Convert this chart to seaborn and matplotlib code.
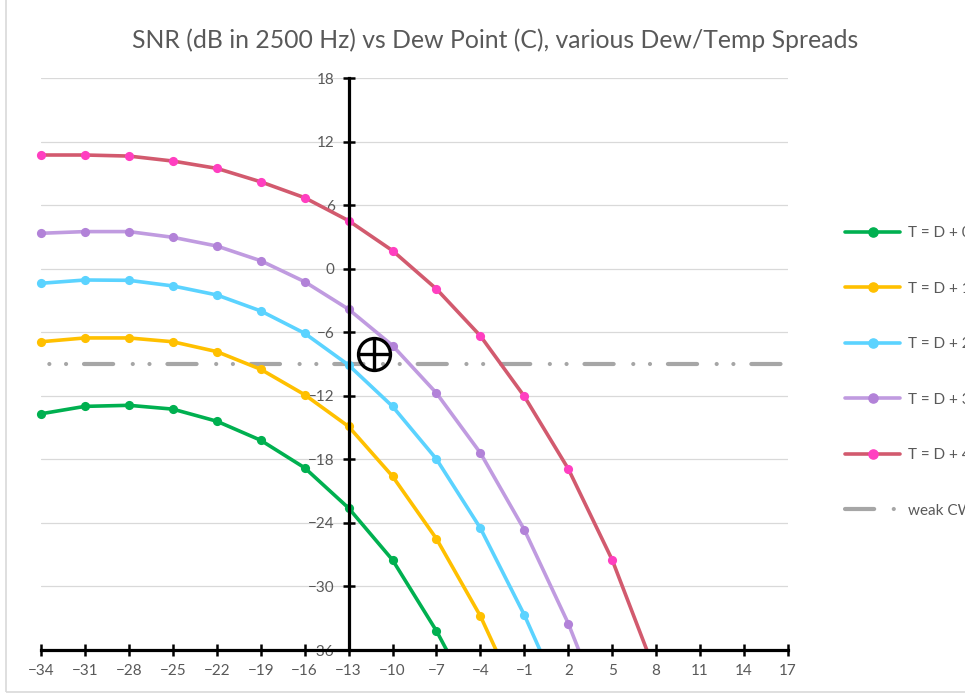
#Recreate the SNR vs Dew Point chart (Excel style) with seaborn

#import packages
import pandas as pd
import matplotlib
matplotlib.use("Agg")
from matplotlib import pyplot as plt
from matplotlib.patches import Rectangle
from matplotlib.lines import Line2D
import seaborn as sns

#data
dew_point = [-34, -31, -28, -25, -22, -19, -16, -13, -10, -7, -4, -1, 2, 5, 8]
spread_0 = [-13.7, -13.0, -12.9, -13.26, -14.4, -16.2, -18.8, -22.6, -27.5, -34.2, -42.0]
spread_1 = [-6.9, -6.54, -6.54, -6.9, -7.83, -9.5, -11.9, -14.9, -19.6, -25.5, -32.8, -41.8]
spread_2 = [-1.38, -1.07, -1.1, -1.63, -2.48, -3.99, -6.1, -9.1, -13.0, -17.98, -24.5, -32.7, -42.0]
spread_3 = [3.34, 3.5, 3.5, 2.96, 2.14, 0.75, -1.23, -3.83, -7.26, -11.75, -17.4, -24.65, -33.5, -44.0]
spread_4 = [10.73, 10.73, 10.63, 10.16, 9.47, 8.2, 6.7, 4.53, 1.7, -1.92, -6.35, -12.06, -18.9, -27.5, -38.3]
labels = ["T = D + 0", "T = D + 1", "T = D + 2", "T = D + 3", "T = D + 4"]

weak_cw_x = [-34, 17]
weak_cw_y = [-9, -9]
weak_label = "weak CW"

point_x = [-11.27]
point_y = [-8.05]

x_ticks = list(range(-34, 18, 3))
y_ticks = list(range(-36, 19, 6))

#colors (lines, then marker faces)
line_colors = ['#00B050', '#FFC000', '#5BD3FF', '#C09BE0', '#D25A6E']
marker_colors = ['#00B050', '#FFC000', '#5BD3FF', '#B282D8', '#FF3FC0']
grey_text = '#595959'
weak_dash = (7.0, 4.7, 0.01, 4.0, 0.01, 4.3)

#build long table for seaborn
series = [spread_0, spread_1, spread_2, spread_3, spread_4]
rows = []
for lab, vals in zip(labels, series):
    for x, y in zip(dew_point, vals):
        rows.append({'dew': x, 'snr': y, 'spread': lab})
df = pd.DataFrame(rows)

sns.set_style('white')
plt.rcParams['font.family'] = ['Lato', 'DejaVu Sans']

fig = plt.figure(figsize=(9.65, 6.96), dpi=100)
ax = fig.add_axes([41/965, 1-650/696, (788-41)/965, (650-78)/696])

#weak CW reference line (dash dot dot)
ax.plot(weak_cw_x, weak_cw_y, color='#A6A6A6', lw=3.0, ls=(9.7, weak_dash),
        dash_capstyle='round', zorder=2)

sns.lineplot(data=df, x='dew', y='snr', hue='spread', hue_order=labels,
             palette=line_colors, marker='o', sort=False, estimator=None,
             lw=2.6, ms=6.6, mew=0, legend=False, ax=ax, zorder=3)

#clip the lines at the bottom axis only, keep the left markers whole
clip = Rectangle((-40, -36), 70, 70, transform=ax.transData)
for ln, mc in zip(ax.lines[1:], marker_colors):
    ln.set_markerfacecolor(mc)
    ln.set_markeredgecolor(mc)
    ln.set_clip_path(clip)

#the circled cross marker
ax.plot(point_x, point_y, marker='o', ms=23, mfc='none', mec='black', mew=2.4, ls='none', zorder=6, clip_on=False)
ax.plot(point_x, point_y, marker='+', ms=23, mec='black', mew=2.4, ls='none', zorder=6, clip_on=False)

ax.set_xlim(-34, 17)
ax.set_ylim(-36, 18)
ax.set_xticks(x_ticks)
ax.set_yticks(y_ticks)
ax.set(xlabel='', ylabel='')

#axes in the Excel way: y axis crosses at -13
for s in ['top', 'right']:
    ax.spines[s].set_visible(False)
ax.spines['left'].set_position(('data', -13))
for s in ['left', 'bottom']:
    ax.spines[s].set_color('black')
    ax.spines[s].set_linewidth(2.3)
    ax.spines[s].set_zorder(4)
ax.tick_params(axis='both', bottom=True, left=True, direction='inout', length=8, width=1.8,
               color='black', labelcolor=grey_text, labelsize=11, pad=6)
for t in ax.get_xticklabels() + ax.get_yticklabels():
    t.set_family(['Liberation Sans Narrow', 'Lato', 'DejaVu Sans'])

ax.grid(axis='y', color='#D9D9D9', lw=0.9)
ax.set_axisbelow(True)

#title
fig.text(495/965, 1-40/696, "SNR (dB in 2500 Hz) vs Dew Point (C), various Dew/Temp Spreads",
         ha='center', va='center', fontsize=17.8, color=grey_text)

#legend on the right (cut by the figure edge like the original)
handles = []
for lc, mc, lab in zip(line_colors, marker_colors, labels):
    handles.append(Line2D([0], [0], color=lc, lw=2.6, marker='o', ms=6.6, mfc=mc, mec=mc, label=lab))
handles.append(Line2D([0], [0], color='#A6A6A6', lw=3.0, ls=(0, weak_dash),
                      dash_capstyle='round', label=weak_label))
leg = fig.legend(handles=handles, loc='upper left', bbox_to_anchor=(845/965, 1-226/696),
                 frameon=False, fontsize=11, handlelength=3.6, handletextpad=0.55,
                 labelspacing=2.72, borderpad=0, borderaxespad=0)
for t in leg.get_texts():
    t.set_color(grey_text)

#light chart border
fig.patches.append(Rectangle((6/965, 4/696), 2, 2, transform=fig.transFigure,
                             fill=False, edgecolor='#D9D9D9', lw=1.2))

fig.savefig('out.png', dpi=100)
